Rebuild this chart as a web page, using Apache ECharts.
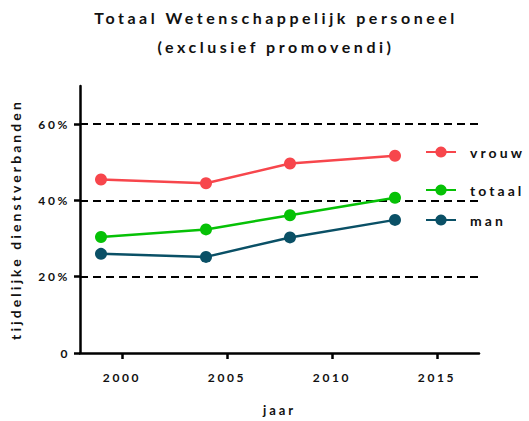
<!DOCTYPE html>
<html>
<head>
<meta charset="utf-8">
<script src="https://cdn.jsdelivr.net/npm/echarts@6/dist/echarts.min.js"></script>
<style>
  html, body { margin: 0; padding: 0; background: #fff; }
  #chart { width: 529px; height: 421px; }
  /* gespreide letters zoals in het origineel */
  #chart svg text { letter-spacing: 0.22em; }
</style>
</head>
<body>
<div id="chart"></div>
<script>
// jaren en percentages (tijdelijke dienstverbanden)
var years = [1999, 2004, 2008, 2013];
var vrouw = [45.5, 44.5, 49.7, 51.7];
var totaal = [30.4, 32.4, 36.1, 40.7];
var man = [26.0, 25.2, 30.3, 34.9];
var xTicks = [2000, 2005, 2010, 2015];
var yTicks = [0, 20, 40, 60];

var FONT = 'Lato';

function pairs(vals) {
  var out = [];
  for (var i = 0; i < years.length; i++) out.push([years[i], vals[i]]);
  return out;
}

function lineSeries(name, color, vals) {
  return {
    name: name,
    type: 'line',
    data: pairs(vals),
    symbol: 'circle',
    symbolSize: 12,
    lineStyle: { color: color, width: 2.5 },
    itemStyle: { color: color },
    emphasis: { disabled: true },
    z: 3
  };
}

function legendAt(name, top) {
  return {
    data: [name],
    left: 425,
    top: top,
    padding: 0,
    itemWidth: 30,
    itemHeight: 14,
    textStyle: { fontFamily: FONT, fontWeight: 'bold', fontSize: 14, color: '#111', padding: [0, 0, 0, 9] }
  };
}

var chart = echarts.init(document.getElementById('chart'), null, { renderer: 'svg' });
var option = {
  animation: false,
  title: {
    text: 'Totaal Wetenschappelijk personeel\n(exclusief promovendi)',
    left: 276,
    top: 3,
    padding: 0,
    textAlign: 'center',
    textStyle: { fontFamily: FONT, fontWeight: 'bold', fontSize: 16, color: '#111', lineHeight: 29 }
  },
  legend: [legendAt('vrouw', 145), legendAt('totaal', 183), legendAt('man', 213)],
  grid: { left: 80, right: 50, top: 86, bottom: 68, containLabel: false, outerBoundsMode: 'none' },
  xAxis: {
    type: 'value',
    min: 1998,
    max: 2017,
    name: 'jaar',
    nameLocation: 'middle',
    nameGap: 50,
    nameTextStyle: { fontFamily: FONT, fontWeight: 'bold', fontSize: 13, color: '#111' },
    axisLine: { lineStyle: { color: '#000', width: 2.5 } },
    axisTick: { show: true, length: 6, lineStyle: { color: '#000', width: 2.5 }, customValues: xTicks },
    axisLabel: { customValues: xTicks, margin: 18, fontFamily: FONT, fontWeight: 'bold', fontSize: 12, color: '#111',
      formatter: function (v) { return String(v); } },
    splitLine: { show: false }
  },
  yAxis: {
    type: 'value',
    min: 0,
    max: 70,
    name: 'tijdelijke dienstverbanden',
    nameLocation: 'middle',
    nameGap: 58,
    nameTextStyle: { fontFamily: FONT, fontWeight: 'bold', fontSize: 14, color: '#111' },
    axisLine: { show: true, lineStyle: { color: '#000', width: 2.5 } },
    axisTick: { show: true, length: 6, lineStyle: { color: '#000', width: 2.5 }, customValues: yTicks },
    axisLabel: { customValues: yTicks, margin: 10, fontFamily: FONT, fontWeight: 'bold', fontSize: 12, color: '#111',
      formatter: function (v) { return v === 0 ? '0' : v + '%'; } },
    splitLine: { show: true, showMinLine: false, lineStyle: { color: '#000', width: 2, type: [8, 5] } }
  },
  series: [
    lineSeries('vrouw', '#F7464C', vrouw),
    lineSeries('totaal', '#06C106', totaal),
    lineSeries('man', '#0A5066', man)
  ]
};
chart.setOption(option);
</script>
</body>
</html>
